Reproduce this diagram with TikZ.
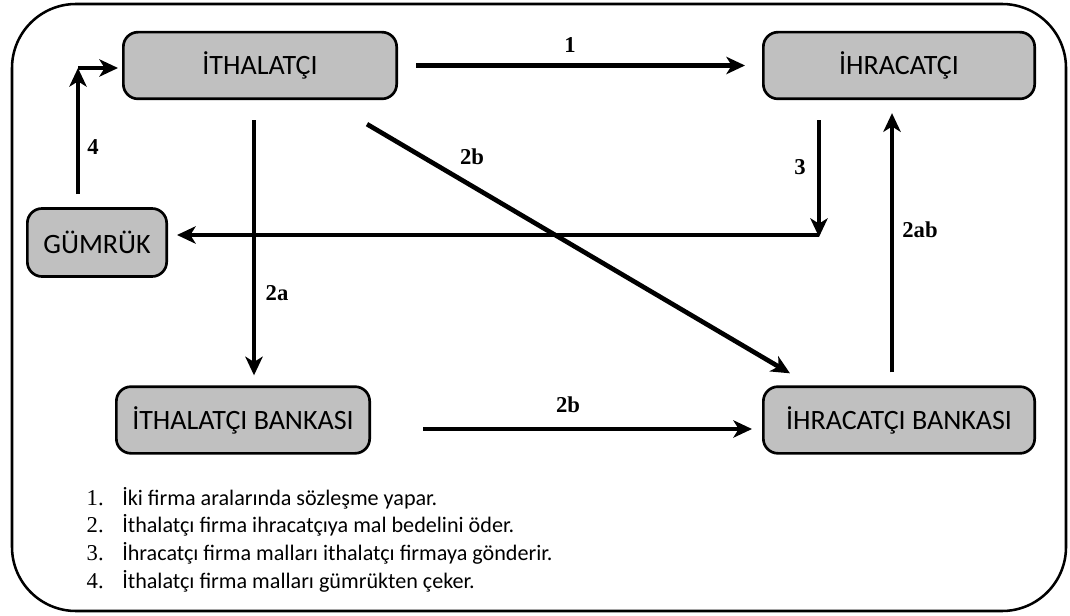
\documentclass[tikz,border=0pt]{standalone}
\usepackage{fontspec}
\setmainfont{Carlito}
\newfontfamily\sayifont{Liberation Serif}
\usetikzlibrary{arrows.meta}

\definecolor{kutugri}{RGB}{192,192,192}

\tikzset{
  kutu/.style={draw,line width=2pt,fill=kutugri,rounded corners=11pt,
    minimum height=50pt,inner sep=0pt,font=\fontsize{21}{25}\selectfont},
  ok/.style={line width=3.5pt,-{Stealth[length=14pt,width=13pt,inset=4pt]}},
  etiket/.style={inner sep=0pt,font=\sayifont\bfseries\fontsize{17}{20}\selectfont},
  madde/.style={inner sep=0pt,anchor=base west,font=\fontsize{16.6}{20}\selectfont},
  sayi/.style={inner sep=0pt,anchor=base east,font=\sayifont\fontsize{17}{20}\selectfont},
}

\begin{document}
\begin{tikzpicture}[x=0.75pt,y=-0.75pt]

\useasboundingbox (0,0) rectangle (1070,616);

\draw[line width=1.9pt,rounded corners=48pt] (12,4) rectangle (1066,611);

\node[kutu,minimum width=205pt] (ith) at (260,65.5) {İTHALATÇI};
\node[kutu,minimum width=203.5pt] (ihr) at (899,65.5) {İHRACATÇI};
\node[kutu,minimum width=104.5pt,minimum height=51pt] (gum) at (97,242.5) {GÜMRÜK};
\node[kutu,minimum width=190pt] (ithb) at (243,420) {İTHALATÇI BANKASI};
\node[kutu,minimum width=203.5pt] (ihrb) at (899,420) {İHRACATÇI BANKASI};

\coordinate (k3) at (819,235);
\coordinate (k4) at (78,68);

\draw[ok,shorten <=13.5pt,shorten >=12.75pt] (ith.east) -- (ihr.west);
\draw[ok] ([xshift=-4.5pt,yshift=-15pt]ith.south) -- ([xshift=8.25pt,yshift=7.5pt]ithb.north);
\draw[ok] ([xshift=-23.25pt,yshift=-18pt]ith.south east) -- ([xshift=21pt,yshift=9pt]ihrb.north west);
\draw[ok] ([xshift=39pt,yshift=-6.75pt]ithb.east) -- ([xshift=-7.5pt,yshift=-6.75pt]ihrb.west);
\draw[ok] ([xshift=-5.25pt,yshift=9.75pt]ihrb.north) -- ([xshift=-5.25pt,yshift=-9.75pt]ihr.south);
\draw[ok,shorten <=15pt,shorten >=-1.5pt] (k3 |- ihr.south) -- (k3);
\draw[ok,shorten >=6.75pt] (k3) -- (k3 -| gum.east);
\draw[ok] ([xshift=-14.25pt,yshift=9.75pt]gum.north) -- (k4);
\draw[ok,shorten >=3pt] (k4) -- (k4 -| ith.west);

\node[etiket] (e1) at (570,45) {1};
\node[etiket] (e2b) at (472,157) {2b};
\node[etiket] (e3) at (800,167) {3};
\node[etiket] (e4) at (93,147) {4};
\node[etiket] (e2a) at (277,293) {2a};
\node[etiket] (e2bb) at (568,405) {2b};
\node[etiket] (e2ab) at (920,230) {2ab};

\foreach \i/\t in {1/{İki firma aralarında sözleşme yapar.},
                   2/{İthalatçı firma ihracatçıya mal bedelini öder.},
                   3/{İhracatçı firma malları ithalatçı firmaya gönderir.},
                   4/{İthalatçı firma malları gümrükten çeker.}}{
  \node[sayi] (s\i) at (104,{505+27.7*(\i-1)}) {\i.};
  \node[madde] (m\i) at (122,{505+27.7*(\i-1)}) {\t};
}

\end{tikzpicture}
\end{document}
